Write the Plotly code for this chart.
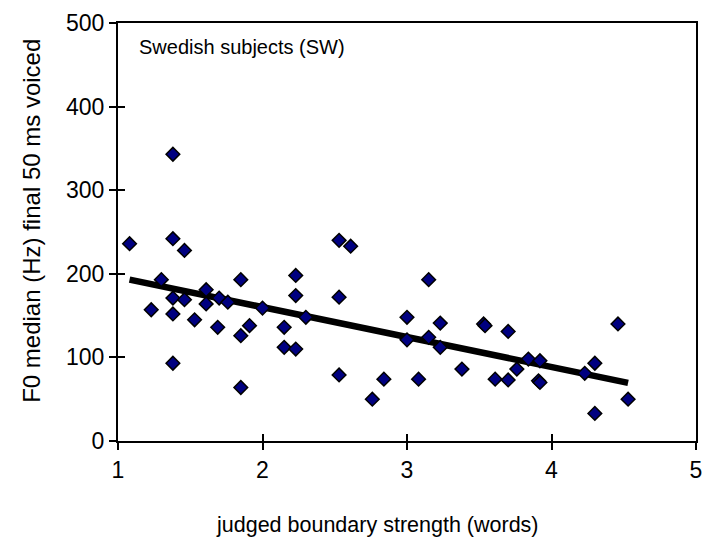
import plotly.graph_objects as go

# judged boundary strength (words)
strength = [1.08, 1.23, 1.30, 1.38, 1.38, 1.38, 1.38, 1.38, 1.46, 1.46,
            1.53, 1.61, 1.61, 1.69, 1.70, 1.76, 1.85, 1.85, 1.85, 1.91,
            2.00, 2.15, 2.15, 2.23, 2.23, 2.23, 2.30, 2.53, 2.53, 2.53,
            2.61, 2.76, 2.84, 3.00, 3.00, 3.08, 3.15, 3.15, 3.23, 3.23,
            3.38, 3.53, 3.54, 3.61, 3.70, 3.70, 3.76, 3.84, 3.92, 3.91,
            3.92, 4.23, 4.30, 4.30, 4.46, 4.53]
# F0 median (Hz) final 50 ms voiced
f0 = [236, 157, 193, 343, 242, 171, 152, 93, 228, 169,
      145, 181, 164, 136, 171, 166, 193, 126, 64, 138,
      159, 136, 112, 198, 174, 110, 148, 240, 172, 79,
      233, 50, 74, 148, 121, 74, 193, 124, 141, 112,
      86, 140, 138, 74, 131, 73, 86, 98, 96, 72,
      70, 81, 93, 33, 140, 50]

# linear trend line endpoints
trend_x = [1.08, 4.53]
trend_y = [193, 69.5]

x_ticks = [1, 2, 3, 4, 5]
y_ticks = [0, 100, 200, 300, 400, 500]

FONT = "Arial, Liberation Sans, sans-serif"

fig = go.Figure()
fig.add_trace(go.Scatter(
    x=trend_x, y=trend_y, mode="lines",
    line=dict(color="black", width=6.5), showlegend=False, hoverinfo="skip"))
fig.add_trace(go.Scatter(
    x=strength, y=f0, mode="markers",
    marker=dict(symbol="diamond", size=10.5, color="#000080",
                line=dict(color="black", width=1.5)),
    showlegend=False))
# dummy trace on overlay axes to draw inside tick marks (crossing ticks)
fig.add_trace(go.Scatter(x=[None], y=[None], xaxis="x2", yaxis="y2",
                         showlegend=False, hoverinfo="skip"))

axis_common = dict(showgrid=False, zeroline=False, linecolor="black",
                   linewidth=2, mirror=True, ticks="outside", ticklen=7,
                   tickwidth=1.5, tickcolor="black",
                   tickfont=dict(family=FONT, size=23, color="black"))

fig.update_layout(
    width=712, height=543,
    margin=dict(l=118, r=10, t=21, b=102),
    paper_bgcolor="white", plot_bgcolor="white",
    xaxis=dict(range=[1, 5], tickvals=x_ticks, **axis_common),
    yaxis=dict(range=[0, 500], tickvals=y_ticks, **axis_common),
    xaxis2=dict(range=[1, 5], tickvals=x_ticks, overlaying="x", anchor="y2",
                side="bottom", ticks="inside", ticklen=7, tickwidth=1.5,
                tickcolor="black", showticklabels=False, showline=False,
                showgrid=False, zeroline=False),
    yaxis2=dict(range=[0, 500], tickvals=y_ticks, overlaying="y", anchor="x2",
                side="left", ticks="inside", ticklen=7, tickwidth=1.5,
                tickcolor="black", showticklabels=False, showline=False,
                showgrid=False, zeroline=False),
    annotations=[
        dict(text="Swedish subjects (SW)", xref="paper", yref="paper",
             x=0.033, y=0.943, xanchor="left", yanchor="middle",
             showarrow=False, font=dict(family=FONT, size=20, color="black")),
        dict(text="judged boundary strength (words)", xref="paper",
             yref="paper", x=0.449, y=-0.2, xanchor="center",
             yanchor="middle", showarrow=False,
             font=dict(family=FONT, size=21.5, color="black")),
        dict(text="F0 median (Hz) final 50 ms voiced", xref="paper",
             yref="paper", x=-0.151, y=0.526, xanchor="center",
             yanchor="middle", textangle=-90, showarrow=False,
             font=dict(family=FONT, size=24, color="black")),
    ],
)

fig.write_html("out.html")
